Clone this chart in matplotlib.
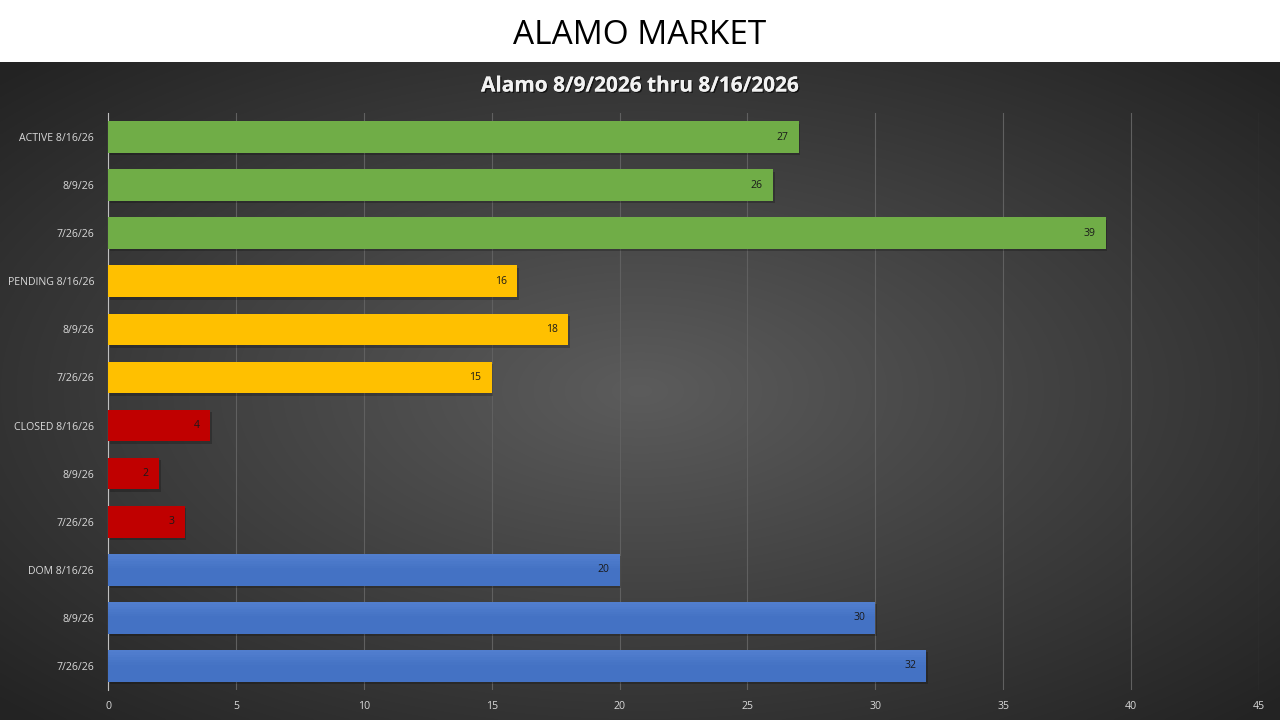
import numpy as np
import matplotlib
matplotlib.use("Agg")
import matplotlib.pyplot as plt
import matplotlib.patheffects as pe

plt.rcParams['font.family'] = ['Open Sans', 'DejaVu Sans']

# data, top to bottom
labels = ['ACTIVE 8/16/26', '8/9/26', '7/26/26',
          'PENDING 8/16/26', '8/9/26', '7/26/26',
          'CLOSED 8/16/26', '8/9/26', '7/26/26',
          'DOM 8/16/26', '8/9/26', '7/26/26']
values = [27, 26, 39, 16, 18, 15, 4, 2, 3, 20, 30, 32]
groups = ['active'] * 3 + ['pending'] * 3 + ['closed'] * 3 + ['dom'] * 3
group_colors = {'active': '#70AD47', 'pending': '#FFC000',
                'closed': '#C00000', 'dom': '#4472C4'}
xticks = [0, 5, 10, 15, 20, 25, 30, 35, 40, 45]

fig = plt.figure(figsize=(12.8, 7.2), dpi=100)
fig.patch.set_facecolor('white')

# dark panel with radial gradient
band = 62 / 720
bg = fig.add_axes([0, 0, 1, 1 - band])
bg.set_axis_off()
yy, xx = np.mgrid[-1:1:300j, -1:1:600j]
rr = np.sqrt(xx ** 2 + yy ** 2)
shade = np.clip(0.36 - 0.16 * rr, 0.14, 0.36)
img = np.dstack([shade, shade, shade])
bg.imshow(img, aspect='auto', extent=[0, 1, 0, 1], interpolation='bilinear')
bg.set_xlim(0, 1)
bg.set_ylim(0, 1)

fig.text(0.5, 1 - 35 / 720, 'ALAMO MARKET', ha='center', va='center',
         fontsize=24, color='black')
fig.text(0.5, 1 - 86 / 720, 'Alamo 8/9/2026 thru 8/16/2026', ha='center',
         va='center', fontsize=15, fontweight='bold', color='#f2f2f2',
         path_effects=[pe.withSimplePatchShadow(offset=(1, -1), shadow_rgbFace='black', alpha=0.6),
                       pe.Normal()])

ax = fig.add_axes([108 / 1280, 1 - 690 / 720, (1259 - 108) / 1280, (690 - 113) / 720])
ax.patch.set_alpha(0)

y = np.arange(len(values))
colors = [group_colors[g] for g in groups]
# soft shadow under bars
ax.barh(y + 0.05, values, height=0.66, left=0.06, color='black', alpha=0.22, zorder=2)
bars = ax.barh(y, values, height=0.66, color=colors, zorder=3)

# lighter top strip on the blue bars for the gradient look
for yi, v, g in zip(y, values, groups):
    if g == 'dom':
        for k in range(6):
            ax.barh(yi - 0.33 + 0.05 * k + 0.025, v, height=0.05,
                    color='#5b87d6', alpha=0.6 - 0.1 * k, zorder=4, linewidth=0)

for yi, v in zip(y, values):
    ax.text(v - 0.4, yi, str(v), ha='right', va='center', fontsize=7.5,
            color='#1a1a1a', zorder=5)

ax.set_ylim(len(values) - 0.5, -0.5)
ax.set_xlim(0, 45)
ax.set_xticks(xticks)
ax.set_yticks(y)
ax.set_yticklabels(labels)
ax.grid(axis='x', color='#606060', linewidth=0.8, zorder=0)
ax.set_axisbelow(True)
for s in ['top', 'right', 'bottom']:
    ax.spines[s].set_visible(False)
ax.spines['left'].set_color('#bfbfbf')
ax.tick_params(axis='both', length=0, colors='#d9d9d9', labelsize=7.6)
ax.tick_params(axis='x', pad=8)
ax.tick_params(axis='y', pad=10)

fig.savefig('out.png', dpi=100)
